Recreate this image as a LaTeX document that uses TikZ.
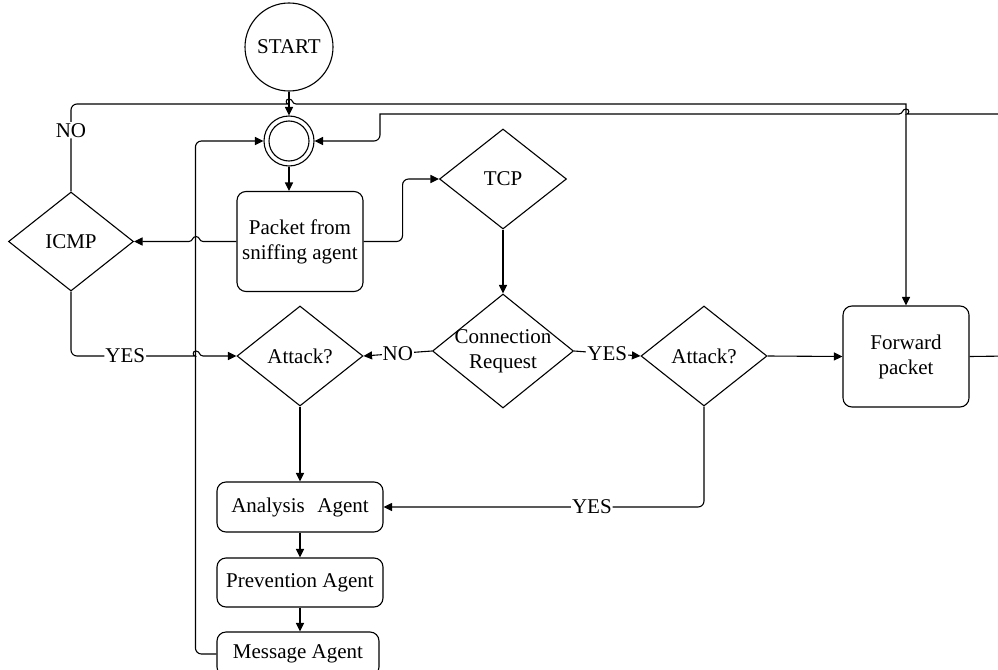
\documentclass[tikz,border=0pt]{standalone}
\usepackage{fontspec}
\setmainfont{Liberation Serif}
\usetikzlibrary{shapes.geometric,arrows.meta}
\begin{document}
\begin{tikzpicture}[x=1pt,y=-1pt,
  every node/.style={font=\fontsize{21}{25}\selectfont},
  base/.style={draw, line width=1.1pt, inner sep=0pt},
  box/.style={base, rectangle, rounded corners=9pt, align=center},
  dec/.style={base, diamond},
  txt/.style={align=center, inner sep=0pt},
  lbl/.style={fill=white, inner sep=1pt},
  link/.style={line width=1.1pt},
  arr/.style={link, -{Triangle[length=8.5pt,width=8pt]}},
]
\useasboundingbox (0,0) rectangle (998,669);
\clip (0,0) rectangle (998,669);

% ---- nodes ----
\node[base, circle, minimum size=88pt] (start) at (289,47) {START};
\node[base, circle, minimum size=50pt] (join) at (289,141) {};
\draw[line width=1.1pt] (join.center) circle[radius=20pt];

\node[box, minimum width=126pt, minimum height=100pt] (packet) at (300,241.5) {Packet from\\sniffing agent};

\node[dec, minimum width=125pt, minimum height=99pt] (icmp) at (71,241.5) {};
\node[txt] (icmp-t) at (icmp) {ICMP};

\node[dec, minimum width=127pt, minimum height=100pt] (tcp) at (503,179) {};
\node[txt] (tcp-t) at (tcp) {TCP};

\node[dec, minimum width=141pt, minimum height=114pt] (cr) at (503,351) {};
\node[txt] (cr-t) at (cr) {Connection\\Request};

\node[dec, minimum width=126pt, minimum height=100pt] (atk1) at (300,356) {};
\node[txt] (atk1-t) at (atk1) {Attack?};

\node[dec, minimum width=126pt, minimum height=100pt] (atk2) at (704,356) {};
\node[txt] (atk2-t) at (atk2) {Attack?};

\node[box, minimum width=126pt, minimum height=101pt] (fwd) at (906,356.5) {Forward\\packet};

\node[box, minimum width=166pt, minimum height=50pt] (ana) at (300,507) {Analysis\hspace{0.6em}Agent};
\node[box, minimum width=166pt, minimum height=49pt] (prev) at (300,582.5) {Prevention Agent};
\node[box, minimum width=162pt, minimum height=44pt] (msg) at (298,654) {Message Agent};

% ---- connectors ----
\draw[arr] (start.south) -- (start.south |- join.north);
\draw[arr] (join.south) -- (join.south |- packet.north);

% packet -> ICMP, hopping over the return line
\draw[arr] (packet.west) -- (203,241.5)
  .. controls (199,241.5) and (200,236.5) .. (196,236.5)
  .. controls (192,236.5) and (193,241.5) .. (189,241.5) -- (icmp.east);

\draw[arr, rounded corners=6pt] (packet.east) -- ++(39,0) |- (tcp.west);
\draw[arr] (tcp.south) -- (cr.north);
\draw[arr] (cr.west) -- node[lbl] (no-cr) {NO} (atk1.east);
\draw[arr] (cr.east) -- node[lbl] (yes-cr) {YES} (atk2.west);
\draw[arr] (atk2.east) -- (fwd.west);
\draw[arr, rounded corners=6pt] (atk2.south) |- node[lbl, pos=0.675] (yes-atk) {YES} (ana.east);
\draw[arr] (atk1.south) -- (ana.north);
\draw[arr] (ana.south) -- (prev.north);
\draw[arr] (prev.south) -- (prev.south |- msg.north);

% return loop from the message agent
\draw[arr, rounded corners=6pt] (msg.west) -- ++(-21,0) |- (join.west);

% ICMP yes -> attack check
\draw[arr] (icmp.south) [rounded corners=6pt] -- (71,356)
  -- node[lbl, pos=0.46] (yes-icmp) {YES} (189,356) [sharp corners]
  .. controls (193,356) and (192,351) .. (196,351)
  .. controls (200,351) and (199,356) .. (203,356) -- (atk1.west);

% ICMP no -> forward packet
\draw[arr] (icmp.north) [rounded corners=6pt] -- node[lbl, pos=0.7] (no-icmp) {NO} (71,104)
  -- (282,104) [sharp corners]
  .. controls (286,104) and (285,99) .. (289,99)
  .. controls (293,99) and (292,104) .. (296,104)
  -- (906,104) [rounded corners=6pt] -- (fwd.north);

% forwarded packet back to the junction
\draw[arr] (fwd.east) [rounded corners=6pt] -- (1010,356) -- (1010,114)
  -- (913,114) [sharp corners]
  .. controls (909,114) and (910,109) .. (906,109)
  .. controls (902,109) and (903,114) .. (899,114)
  -- (380,114) [rounded corners=6pt] -- (380,141) -- (join.east);
\end{tikzpicture}
\end{document}
